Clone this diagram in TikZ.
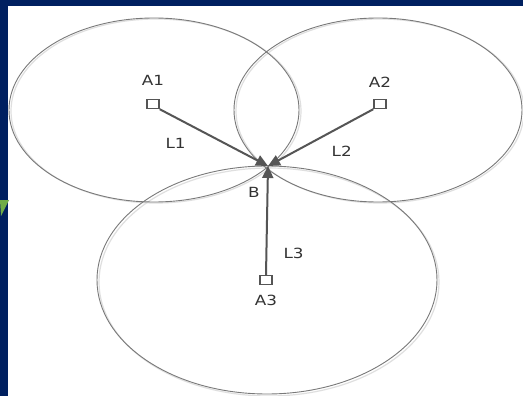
\documentclass[tikz,border=0pt]{standalone}
\usepackage{fontspec}
\setmainfont{DejaVu Sans}
\usepackage{tikz}
\usetikzlibrary{arrows.meta, positioning}
\definecolor{navybg}{RGB}{0,32,96}
\definecolor{slidegreen}{RGB}{112,173,71}
\definecolor{linegray}{RGB}{85,85,85}

\begin{document}
\begin{tikzpicture}[x=1pt, y=-1pt,
    rangering/.style={draw=gray!95!black, line width=0.9pt},
    ringshadow/.style={draw=gray!25, line width=1.2pt},
    anchorbox/.style={draw=linegray, line width=1.4pt, fill=white, minimum width=12pt, minimum height=9pt, inner sep=0pt},
    lbl/.style={font=\fontsize{14}{16}\selectfont, text=black!80, xscale=1.2, transform shape},
    arrow/.style={draw=linegray, line width=2pt, -{Triangle[length=12pt, width=11pt]}}
]
    \useasboundingbox (0,0) rectangle (523,396);
    % Slide background
    \fill[navybg] (0,0) rectangle (523,396);
    \fill[white] (8,6) rectangle (523,396);
    \fill[slidegreen] (0,200) -- (9,200) -- (1,216) -- cycle;

    \begin{scope}
    \clip (8,6) rectangle (523,396);
    % Range circles
    \draw[ringshadow] (156,111) ellipse [x radius=145, y radius=92];
    \draw[ringshadow] (380,111) ellipse [x radius=144, y radius=92];
    \draw[ringshadow] (269,282) ellipse [x radius=170, y radius=114];
    \draw[rangering] (154,110) ellipse [x radius=145, y radius=92];
    \draw[rangering] (378,110) ellipse [x radius=144, y radius=92];
    \draw[rangering] (267,280) ellipse [x radius=170, y radius=114];
    \end{scope}

    % Anchors and target
    \node[anchorbox] (a1) at (153,104) {};
    \node[anchorbox] (a2) at (380,104) {};
    \node[anchorbox] (a3) at (266,280) {};
    \coordinate (b) at (268,166);

    \node[lbl, above=10pt of a1] (a1lbl) {A1};
    \node[lbl, above=8pt of a2] (a2lbl) {A2};
    \node[lbl, below=6pt of a3] (a3lbl) {A3};
    \node[lbl] (blbl) at (254,192) {B};

    % Distances
    \draw[arrow] (a1.south east) -- node[lbl, pos=0.25, below left=11pt and -4pt] (l1) {L1} (b);
    \draw[arrow] (a2.south west) -- node[lbl, pos=0.3, below=16pt] (l2) {L2} (b);
    \draw[arrow] (a3.north) -- node[lbl, pos=0.2, right=12pt] (l3) {L3} (b);

\end{tikzpicture}
\end{document}
